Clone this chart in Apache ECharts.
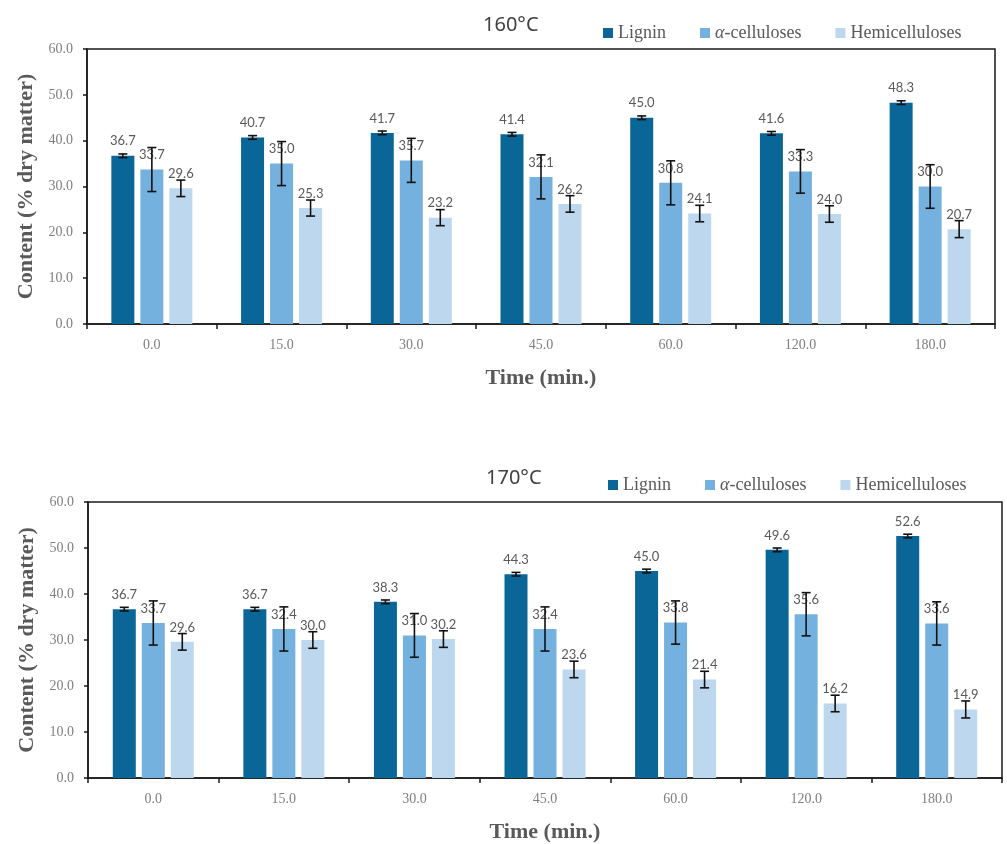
<!DOCTYPE html>
<html><head><meta charset="utf-8">
<script src="https://cdn.jsdelivr.net/npm/echarts@6/dist/echarts.min.js"></script>
<style>html,body{margin:0;padding:0;background:#fff}#c{width:1007px;height:844px}</style>
</head><body><div id="c"></div>
<script>
// ---- data ----
const categories = ['0.0', '15.0', '30.0', '45.0', '60.0', '120.0', '180.0'];
const seriesNames = ['Lignin', 'α-celluloses', 'Hemicelluloses'];
const titles = ['160°C', '170°C'];

const lignin160 = [36.7, 40.7, 41.7, 41.4, 45.0, 41.6, 48.3];
const alpha160  = [33.7, 35.0, 35.7, 32.1, 30.8, 33.3, 30.0];
const hemi160   = [29.6, 25.3, 23.2, 26.2, 24.1, 24.0, 20.7];
const ligninErr160 = [0.4, 0.4, 0.4, 0.4, 0.4, 0.4, 0.4];
const alphaErr160  = [4.8, 4.8, 4.8, 4.8, 4.8, 4.75, 4.75];
const hemiErr160   = [1.8, 1.75, 1.75, 1.8, 1.8, 1.8, 1.85];

const lignin170 = [36.7, 36.7, 38.3, 44.3, 45.0, 49.6, 52.6];
const alpha170  = [33.7, 32.4, 31.0, 32.4, 33.8, 35.6, 33.6];
const hemi170   = [29.6, 30.0, 30.2, 23.6, 21.4, 16.2, 14.9];
const ligninErr170 = [0.4, 0.4, 0.4, 0.4, 0.4, 0.4, 0.4];
const alphaErr170  = [4.8, 4.8, 4.75, 4.8, 4.7, 4.7, 4.7];
const hemiErr170   = [1.8, 1.8, 1.8, 1.8, 1.8, 1.8, 1.85];

const yMin = 0, yMax = 60, yInterval = 10;

// ---- styles ----
const colors = ['#0b6698', '#75b1de', '#bdd7ee'];
const BAR_W = 23, BAR_GAP_PX = 6;
const serif = 'Liberation Serif';
const axisColor = '#1a1a1a';

const panels = [
  { vals: [lignin160, alpha160, hemi160], errs: [ligninErr160, alphaErr160, hemiErr160],
    grid: { left: 87, right: 12, top: 49, bottom: 520 }, titleTop: 10, titleLeft: 478, legendTop: 19, legendLeft: 598 },
  { vals: [lignin170, alpha170, hemi170], errs: [ligninErr170, alphaErr170, hemiErr170],
    grid: { left: 88, right: 5, top: 502, bottom: 66 }, titleTop: 463, titleLeft: 481, legendTop: 471, legendLeft: 603 }
];

const grids = [], xAxes = [], yAxes = [], series = [], titleArr = [], legends = [];

panels.forEach((p, pi) => {
  grids.push(Object.assign({ show: true, borderColor: axisColor, borderWidth: 1.5, containLabel: false }, p.grid));
  titleArr.push({ text: titles[pi], left: p.titleLeft, top: p.titleTop,
    textStyle: { fontFamily: 'Noto Sans', fontWeight: 'normal', fontSize: 20, color: '#404040' } });
  legends.push({
    data: seriesNames, left: p.legendLeft, top: p.legendTop, itemWidth: 10, itemHeight: 10, itemGap: 34,
    icon: 'rect', selectedMode: false,
    formatter: n => n.indexOf('α') === 0 ? '{i|α}' + n.slice(1) : n,
    textStyle: { fontFamily: serif, fontSize: 18, color: '#595959',
      rich: { i: { fontFamily: serif, fontStyle: 'italic', fontSize: 18, color: '#595959' } } }
  });
  xAxes.push({
    type: 'category', gridIndex: pi, data: categories,
    name: 'Time (min.)', nameLocation: 'middle', nameGap: 43,
    nameTextStyle: { fontFamily: serif, fontWeight: 'bold', fontSize: 22, color: '#595959' },
    axisLine: { lineStyle: { color: axisColor, width: 1.5 } },
    axisTick: { show: true, length: 5, lineStyle: { color: axisColor, width: 1.5 } },
    axisLabel: { fontFamily: serif, fontSize: 14, color: '#7f7f7f', margin: 14 }
  });
  yAxes.push({
    type: 'value', gridIndex: pi, min: yMin, max: yMax, interval: yInterval,
    name: 'Content (% dry matter)', nameLocation: 'middle', nameGap: 47, nameRotate: 90,
    nameTextStyle: { fontFamily: serif, fontWeight: 'bold', fontSize: 22, color: '#595959' },
    axisLine: { show: true, lineStyle: { color: axisColor, width: 1.5 } },
    axisTick: { show: true, length: 4, lineStyle: { color: axisColor, width: 1.5 } },
    splitLine: { show: false },
    axisLabel: { fontFamily: serif, fontSize: 14, color: '#7f7f7f', margin: 14, formatter: v => v.toFixed(1) }
  });
  p.vals.forEach((arr, k) => {
    series.push({
      type: 'bar', name: seriesNames[k], xAxisIndex: pi, yAxisIndex: pi, data: arr,
      barWidth: BAR_W, barGap: (BAR_GAP_PX / BAR_W * 100).toFixed(1) + '%',
      itemStyle: { color: colors[k] },
      label: { show: true, position: 'top', distance: 8, fontFamily: 'Lato', fontSize: 13, color: '#595959',
        formatter: d => d.value.toFixed(1) },
      z: 2
    });
  });
  p.vals.forEach((arr, k) => {
    const errs = p.errs[k];
    const offset = (k - 1) * (BAR_W + BAR_GAP_PX);
    series.push({
      type: 'custom', name: seriesNames[k] + ' err', xAxisIndex: pi, yAxisIndex: pi,
      data: arr.map((v, i) => [i, v - errs[i], v + errs[i]]),
      encode: { x: 0, y: [1, 2] }, z: 5, silent: true,
      renderItem: (params, api) => {
        const lo = api.coord([api.value(0), api.value(1)]);
        const hi = api.coord([api.value(0), api.value(2)]);
        const x = lo[0] + offset, cap = 4.5;
        const st = { stroke: '#111', lineWidth: 1.6 };
        return { type: 'group', children: [
          { type: 'line', shape: { x1: x, y1: lo[1], x2: x, y2: hi[1] }, style: st },
          { type: 'line', shape: { x1: x - cap, y1: lo[1], x2: x + cap, y2: lo[1] }, style: st },
          { type: 'line', shape: { x1: x - cap, y1: hi[1], x2: x + cap, y2: hi[1] }, style: st }
        ] };
      }
    });
  });
});

const chart = echarts.init(document.getElementById('c'), null, { renderer: 'canvas' });
chart.setOption({
  animation: false, backgroundColor: '#fff',
  title: titleArr, legend: legends, grid: grids, xAxis: xAxes, yAxis: yAxes, series: series
});
</script></body></html>
